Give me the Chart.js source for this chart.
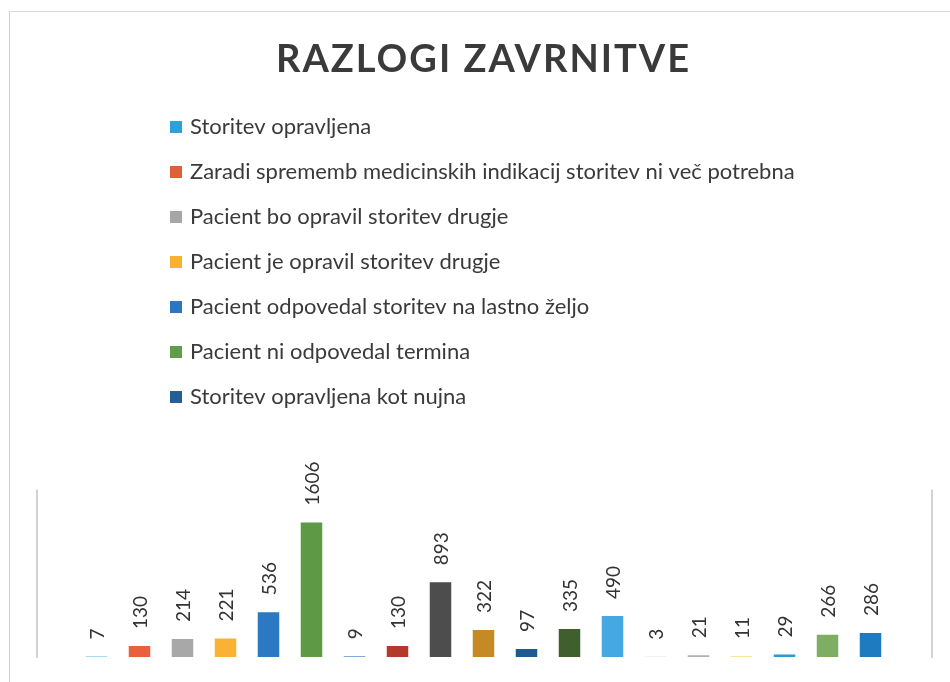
<!DOCTYPE html>
<html>
<head>
<meta charset="utf-8">
<script src="https://cdn.jsdelivr.net/npm/chart.js@4.4.0/dist/chart.umd.min.js"></script>
<style>
    html, body { margin: 0; padding: 0; background: #fff; }
    #wrap { position: relative; width: 950px; height: 682px; overflow: hidden; }
    #wrap:before { content: ''; position: absolute; left: 9px; top: 11px; right: 0; height: 1px; background: #d9d9d9; }
    #wrap:after { content: ''; position: absolute; left: 9px; top: 11px; bottom: 0; width: 1px; background: #d0d0d0; }
    canvas { position: absolute; left: 0; top: 0; }
</style>
</head>
<body>
<div id="wrap"><canvas id="reasonsChart" width="950" height="682"></canvas></div>
<script>
// Legend entries (as shown in the reference)
const legendNames = [
    'Storitev opravljena',
    'Zaradi sprememb medicinskih indikacij storitev ni več potrebna',
    'Pacient bo opravil storitev drugje',
    'Pacient je opravil storitev drugje',
    'Pacient odpovedal storitev na lastno željo',
    'Pacient ni odpovedal termina',
    'Storitev opravljena kot nujna'
];
const legendColors = ['#2E9FD9', '#E0603A', '#A6A6A6', '#F7B330', '#2B78C2', '#5E9E49', '#235E96'];

// Bar values, left to right
const values = [7, 130, 214, 221, 536, 1606, 9, 130, 893, 322, 97, 335, 490, 3, 21, 11, 29, 266, 286];
const barColors = [
    '#4FB8DA', '#E8603C', '#A8A8A8', '#F9B233', '#2B79C2', '#5E9A45', '#5A8FC8',
    '#B5392A', '#4D4D4D', '#C68A25', '#1F5A8E', '#3F5F2C', '#45A8E0', '#E8C4A8',
    '#B0B0B0', '#FBE3A0', '#2A9BD0', '#7DAE64', '#1F7BC0'
];
const categories = values.map((v, i) => String(i + 1));

const FONT = "Lato, 'Noto Sans', sans-serif";

// draws the vertical legend list in the space below the title
const legendListPlugin = {
    id: 'legendList',
    afterDraw(chart) {
        const ctx = chart.ctx;
        ctx.save();
        ctx.font = '22px ' + FONT;
        ctx.textBaseline = 'middle';
        ctx.textAlign = 'left';
        legendNames.forEach((name, i) => {
            const y = 127 + i * 45;
            ctx.fillStyle = legendColors[i];
            ctx.fillRect(170, y - 6, 12, 12);
            ctx.fillStyle = '#3a3a3a';
            ctx.fillText(name, 190, y);
        });
        ctx.restore();
    }
};

// rotated value labels above bars + side frame lines
const valueLabelsPlugin = {
    id: 'valueLabels',
    afterDatasetsDraw(chart) {
        const ctx = chart.ctx;
        const area = chart.chartArea;
        ctx.save();
        ctx.strokeStyle = '#c4c4c4';
        ctx.lineWidth = 1.5;
        ctx.beginPath();
        ctx.moveTo(area.left - 38, area.top);
        ctx.lineTo(area.left - 38, area.bottom + 1);
        ctx.moveTo(area.right + 40, area.top);
        ctx.lineTo(area.right + 40, area.bottom + 1);
        ctx.stroke();

        ctx.font = '19px ' + FONT;
        ctx.fillStyle = '#333';
        ctx.textAlign = 'left';
        ctx.textBaseline = 'middle';
        chart.getDatasetMeta(0).data.forEach((bar, i) => {
            ctx.save();
            ctx.translate(bar.x + 1, bar.y - 17);
            ctx.rotate(-Math.PI / 2);
            ctx.fillText(String(values[i]), 0, 0);
            ctx.restore();
        });
        ctx.restore();
    }
};

const titleSpacing = {
    id: 'titleSpacing',
    beforeDraw(chart) { chart.ctx.letterSpacing = '2px'; },
    beforeDatasetsDraw(chart) { chart.ctx.letterSpacing = '0px'; }
};

new Chart(document.getElementById('reasonsChart').getContext('2d'), {
    type: 'bar',
    data: {
        labels: categories,
        datasets: [{
            data: values,
            backgroundColor: barColors,
            borderWidth: 0,
            barPercentage: 0.5,
            categoryPercentage: 1.0
        }]
    },
    options: {
        responsive: false,
        animation: false,
        layout: {
            padding: { left: 75, right: 58, bottom: 25, top: 0 }
        },
        plugins: {
            legend: { display: false },
            tooltip: { enabled: false },
            title: {
                display: true,
                text: 'RAZLOGI ZAVRNITVE',
                color: '#3a3a3a',
                font: { family: FONT, size: 38, weight: 'bold' },
                padding: { top: 37, bottom: 407 }
            }
        },
        scales: {
            x: {
                display: false,
                grid: { display: false }
            },
            y: {
                display: false,
                min: 0,
                max: 2000,
                grid: { display: false }
            }
        }
    },
    plugins: [titleSpacing, legendListPlugin, valueLabelsPlugin]
});
</script>
</body>
</html>
